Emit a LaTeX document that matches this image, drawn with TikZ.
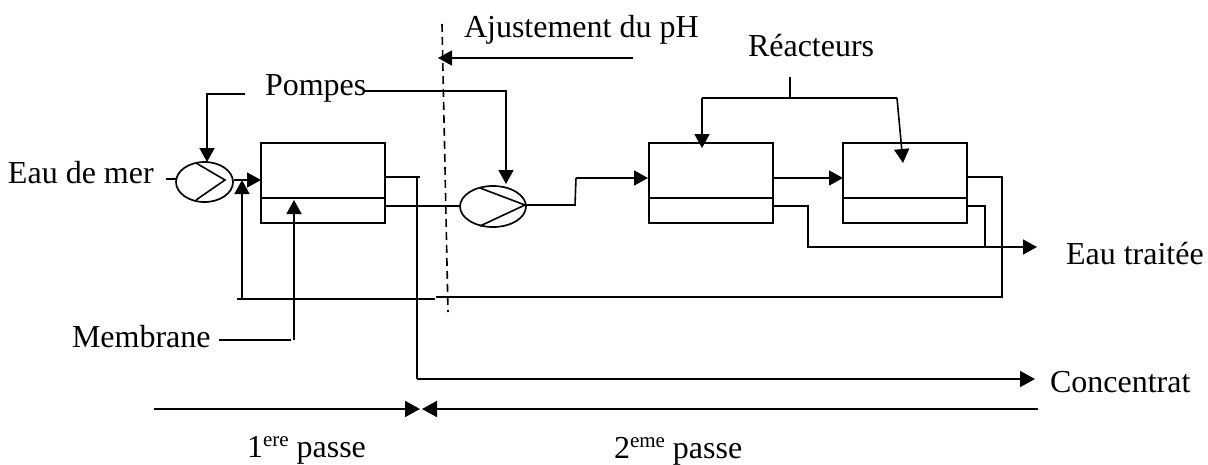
\documentclass[tikz,border=0pt]{standalone}
\usepackage{fontspec}
\setmainfont{Liberation Serif}
\usetikzlibrary{arrows.meta,shapes.geometric}
\tikzset{
  lbl/.style={anchor=base west,inner sep=0pt,outer sep=0pt,font=\fontsize{32}{35}\selectfont},
  box/.style={draw,line width=1.7pt,rectangle,inner sep=0pt,minimum width=124pt},
  pump/.style={draw,line width=1.7pt,ellipse,inner sep=0pt},
  pipe/.style={line width=1.6pt},
  arr/.style={line width=1.6pt,-{Triangle[length=14pt,width=15pt]}},
  arrs/.style={line width=1.8pt,-{Triangle[length=15pt,width=16pt]}},
}
\newcommand{\sups}[1]{\raisebox{11pt}{\fontsize{21}{23}\selectfont #1}}
\begin{document}
\begin{tikzpicture}[x=1pt,y=-1pt]
\useasboundingbox (0,0) rectangle (1208,464);
% labels
\node[lbl] (ph) at (464,37) {Ajustement du pH};
\node[lbl] (reac) at (748,56) {Réacteurs};
\node[lbl] (pom) at (265,95) {Pompes};
\node[lbl] (mer) at (8,183) {Eau de mer};
\node[lbl] (tr) at (1066,264) {Eau traitée};
\node[lbl] (mem) at (72,347) {Membrane};
\node[lbl] (con) at (1050,392) {Concentrat};
\node[lbl] (p1t) at (247,457) {1\sups{ere} passe};
\node[lbl] (p2t) at (614,458) {2\sups{eme} passe};
% boxes
\foreach \n/\x in {a/323,b/711,c/905}{
  \node[box,minimum height=55pt] (\n u) at (\x,170.5) {};
  \node[box,minimum height=25pt] (\n l) at (\x,210.5) {};
}
% pumps
\node[pump,minimum width=57pt,minimum height=40pt] (p1) at (204.5,182) {};
\node[pump,minimum width=66pt,minimum height=41pt] (p2) at (493,206.5) {};
% pump chevrons
\draw[pipe] (196,163) -- (225,180) -- (196,200);
\draw[pipe] (480,188) -- (525,205) -- (480,226);
% free ends
\coordinate (dt) at (442,24);
\coordinate (db) at (448,312);
\coordinate (phs) at (633,58);
\coordinate (pht) at (438,58);
\coordinate (s1) at (245,94);
\coordinate (s1a) at (207,94);
\coordinate (s2a) at (506,91);
\coordinate (ms) at (166,179);
\coordinate (rl) at (237,299);
\coordinate (rm) at (435,299);
\coordinate (rc) at (242,299);
\coordinate (rt) at (242,180);
\coordinate (rn) at (436,297);
\coordinate (rr) at (1002,297);
\coordinate (c3) at (1002,177);
\coordinate (b3u) at (967,177);
\coordinate (o1) at (384,177);
\coordinate (o1b) at (420,177);
\coordinate (o1v) at (417,177);
\coordinate (o1d) at (417,379);
\coordinate (o1e) at (1035,379);
\coordinate (mv) at (294,340);
\coordinate (mt) at (294,200);
\coordinate (mh) at (219,340);
\coordinate (mh2) at (291,340);
\coordinate (p2a) at (575,205);
\coordinate (p2b) at (576,178);
\coordinate (b2i) at (648,178);
\coordinate (rs) at (790,77);
\coordinate (rj) at (790,98);
\coordinate (rla) at (702,98);
\coordinate (rlt) at (702,148);
\coordinate (rra) at (897,98);
\coordinate (rrt) at (903,163);
\coordinate (b2o) at (773,178);
\coordinate (b3i) at (843,178);
\coordinate (b2l) at (773,206);
\coordinate (j1) at (808,206);
\coordinate (j2) at (808,247);
\coordinate (j3) at (1037,247);
\coordinate (b3l) at (967,206);
\coordinate (j4) at (985,206);
\coordinate (j5) at (985,247);
\coordinate (d1) at (154,409);
\coordinate (d2) at (420,409);
\coordinate (d3) at (1038,409);
\coordinate (d4) at (422,409);
\coordinate (a1i) at (261,180);
\coordinate (a1l) at (385,206);
\coordinate (p2i) at (460,206);
\coordinate (p2o) at (526,205);
\coordinate (p1i) at (176,179);
\coordinate (pr) at (365,91);
% connectors
\draw[pipe,dash pattern=on 8pt off 5pt] (dt) -- (db);
\draw[arr] (phs) -- (pht);
\draw[arr] (s1) -- (s1a) -- (207,162);
\draw[arr] (pr) -- (s2a) -- (506,184);
\draw[pipe] (ms) -- (p1i);
\draw[arr] (p1.east |- a1i) -- (a1i);
\draw[pipe] (rl) -- (rm);
\draw[arr] (rc) -- (rt);
\draw[pipe] (rn) -- (rr) -- (c3) -- (b3u);
\draw[pipe] (o1) -- (o1b);
\draw[pipe] (o1v) -- (o1d);
\draw[arrs] (o1d) -- (o1e);
\draw[pipe] (mh) -- (mh2);
\draw[arr] (mv) -- (mt);
\draw[pipe] (a1l) -- (p2i);
\draw[pipe] (p2o) -- (p2a) -- (p2b);
\draw[arr] (p2b) -- (b2i);
\draw[pipe] (rs) -- (rj);
\draw[pipe] (rla) -- (rra);
\draw[arr] (rla) -- (rlt);
\draw[arr] (rra) -- (rrt);
\draw[arr] (b2o) -- (b3i);
\draw[arr] (b2l) -- (j1) -- (j2) -- (j3);
\draw[pipe] (b3l) -- (j4) -- (j5);
\draw[arrs] (d1) -- (d2);
\draw[arrs] (d3) -- (d4);
\end{tikzpicture}
\end{document}
